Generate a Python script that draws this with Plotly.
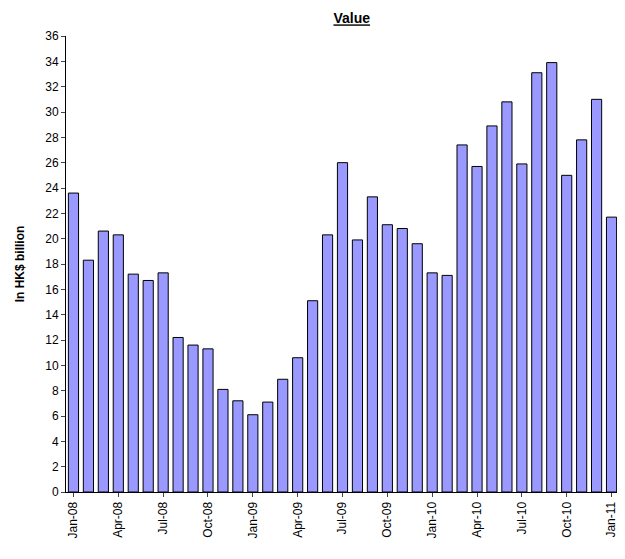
import plotly.graph_objects as go

months = ["Jan-08","Feb-08","Mar-08","Apr-08","May-08","Jun-08","Jul-08","Aug-08","Sep-08","Oct-08","Nov-08","Dec-08",
          "Jan-09","Feb-09","Mar-09","Apr-09","May-09","Jun-09","Jul-09","Aug-09","Sep-09","Oct-09","Nov-09","Dec-09",
          "Jan-10","Feb-10","Mar-10","Apr-10","May-10","Jun-10","Jul-10","Aug-10","Sep-10","Oct-10","Nov-10","Dec-10",
          "Jan-11"]
values = [23.6,18.3,20.6,20.3,17.2,16.7,17.3,12.2,11.6,11.3,8.1,7.2,
          6.1,7.1,8.9,10.6,15.1,20.3,26.0,19.9,23.3,21.1,20.8,19.6,
          17.3,17.1,27.4,25.7,28.9,30.8,25.9,33.1,33.9,25.0,27.8,31.0,
          21.7]

x = list(range(len(months)))
fig = go.Figure(go.Bar(x=x, y=values, marker_color="#9999ff",
                       marker_line_color="black", marker_line_width=1, width=0.68))
fig.update_layout(
    width=625, height=559, plot_bgcolor="white", paper_bgcolor="white",
    margin=dict(l=58, r=11, t=28, b=75, autoexpand=False), showlegend=False,
    font=dict(family="Liberation Sans, Arial", size=12, color="black"),
    title=dict(text="<b><u>Value</u></b>", x=0.55, y=0.99, xanchor="center", yanchor="top",
               font=dict(size=14)),
)
fig.update_xaxes(range=[-0.5, len(months) - 0.3], tickvals=x[::3], ticktext=months[::3],
                 tickangle=-90, showline=True, linecolor="black", ticks="outside",
                 ticklen=4, showgrid=False, automargin=False)
fig.update_yaxes(range=[0, 36], dtick=2, showline=True, linecolor="black", ticks="outside",
                 ticklen=4, showgrid=False, automargin=False,
                 title=dict(text="<b>In HK$ billion</b>", font=dict(size=12), standoff=18))
fig.write_html("out.html")
